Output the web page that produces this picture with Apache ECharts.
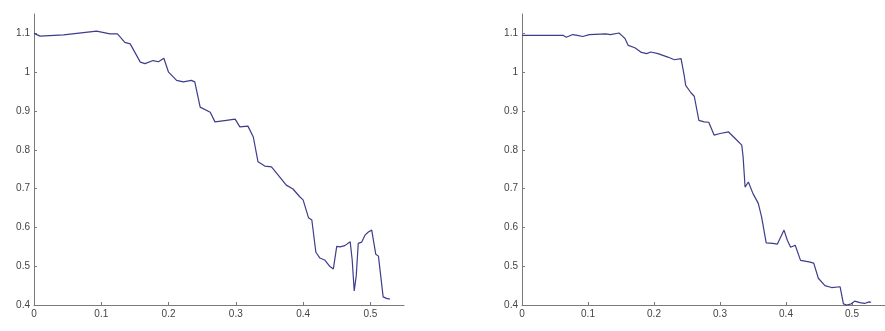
<!DOCTYPE html>
<html>
<head>
<meta charset="utf-8">
<script src="https://cdn.jsdelivr.net/npm/echarts@6/dist/echarts.min.js"></script>
<style>
  html, body { margin: 0; padding: 0; background: #fff; }
  #chart { width: 885px; height: 331px; }
</style>
</head>
<body>
<div id="chart"></div>
<script>
// Left panel curve: x positions and values
const leftX = [0, 0.009, 0.044, 0.093, 0.113, 0.124, 0.135, 0.143, 0.158, 0.165, 0.177, 0.185, 0.193, 0.2,
  0.212, 0.222, 0.234, 0.239, 0.247, 0.262, 0.269, 0.286, 0.299, 0.306, 0.318, 0.326, 0.333, 0.343,
  0.353, 0.363, 0.375, 0.385, 0.395, 0.4, 0.408, 0.413, 0.419, 0.425, 0.432, 0.44, 0.445, 0.45, 0.455,
  0.462, 0.47, 0.473, 0.476, 0.479, 0.482, 0.487, 0.492, 0.497, 0.502, 0.508, 0.512, 0.519, 0.524, 0.529];
const leftY = [1.1, 1.093, 1.096, 1.106, 1.099, 1.099, 1.077, 1.073, 1.026, 1.022, 1.03, 1.027, 1.036, 1.0,
  0.979, 0.975, 0.979, 0.975, 0.91, 0.897, 0.872, 0.876, 0.879, 0.859, 0.861, 0.833, 0.769, 0.758,
  0.756, 0.735, 0.709, 0.699, 0.679, 0.671, 0.625, 0.619, 0.536, 0.521, 0.516, 0.499, 0.493, 0.551, 0.55,
  0.553, 0.563, 0.516, 0.436, 0.475, 0.559, 0.562, 0.58, 0.588, 0.593, 0.531, 0.526, 0.421, 0.417, 0.415];

// Right panel curve: x positions and values
const rightX = [0, 0.062, 0.067, 0.077, 0.084, 0.092, 0.102, 0.127, 0.134, 0.147, 0.151, 0.156, 0.161, 0.171,
  0.181, 0.189, 0.195, 0.206, 0.221, 0.231, 0.241, 0.243, 0.246, 0.248, 0.256, 0.261, 0.268, 0.276,
  0.283, 0.291, 0.3, 0.313, 0.323, 0.333, 0.335, 0.338, 0.343, 0.35, 0.358, 0.363, 0.37, 0.38, 0.387,
  0.397, 0.402, 0.407, 0.414, 0.422, 0.435, 0.442, 0.449, 0.459, 0.469, 0.482, 0.487, 0.492, 0.499,
  0.504, 0.512, 0.519, 0.526, 0.529];
const rightY = [1.095, 1.095, 1.09, 1.097, 1.095, 1.092, 1.097, 1.099, 1.097, 1.101, 1.095, 1.087, 1.069, 1.063,
  1.051, 1.048, 1.052, 1.048, 1.039, 1.032, 1.035, 1.03, 0.989, 0.966, 0.947, 0.938, 0.876, 0.872,
  0.871, 0.838, 0.842, 0.846, 0.829, 0.812, 0.782, 0.704, 0.717, 0.687, 0.662, 0.627, 0.56, 0.559, 0.557,
  0.593, 0.567, 0.549, 0.554, 0.515, 0.511, 0.508, 0.469, 0.45, 0.445, 0.447, 0.403, 0.4, 0.403,
  0.41, 0.406, 0.404, 0.408, 0.407];

// Tick marks and labels
const xTicks = [0, 0.1, 0.2, 0.3, 0.4, 0.5];
const yTicks = [0.4, 0.5, 0.6, 0.7, 0.8, 0.9, 1.0, 1.1];

const fmt = v => String(parseFloat(Number(v).toFixed(2)));
const pairs = (xs, ys) => xs.map((x, i) => [x, ys[i]]);

const axisColor = '#7a7a7a';
const labelStyle = { color: '#444', fontSize: 10, fontFamily: 'Liberation Sans, Arial, sans-serif' };

function xAxis(gridIndex) {
  return {
    type: 'value', gridIndex, min: 0, max: 0.55,
    axisLine: { show: true, lineStyle: { color: axisColor, width: 1 } },
    axisTick: { show: true, inside: true, length: 3, customValues: xTicks, lineStyle: { color: axisColor } },
    axisLabel: { ...labelStyle, margin: 4, customValues: xTicks, formatter: fmt },
    splitLine: { show: false }
  };
}
function yAxis(gridIndex) {
  return {
    type: 'value', gridIndex, min: 0.4, max: 1.15,
    axisLine: { show: true, lineStyle: { color: axisColor, width: 1 } },
    axisTick: { show: true, inside: true, length: 3, customValues: yTicks, lineStyle: { color: axisColor } },
    axisLabel: { ...labelStyle, margin: 4, customValues: yTicks, formatter: fmt },
    splitLine: { show: false }
  };
}

const lineStyle = { color: '#3d3d8c', width: 1.2 };

const chart = echarts.init(document.getElementById('chart'), null, { renderer: 'canvas' });
chart.setOption({
  animation: false,
  backgroundColor: '#ffffff',
  grid: [
    { left: 34, top: 14, width: 370, height: 291 },
    { left: 522, top: 14, width: 370, height: 291 }
  ],
  xAxis: [xAxis(0), xAxis(1)],
  yAxis: [yAxis(0), yAxis(1)],
  series: [
    { type: 'line', xAxisIndex: 0, yAxisIndex: 0, data: pairs(leftX, leftY), showSymbol: false, clip: false, lineStyle },
    { type: 'line', xAxisIndex: 1, yAxisIndex: 1, data: pairs(rightX, rightY), showSymbol: false, clip: false, lineStyle }
  ]
});
</script>
</body>
</html>
